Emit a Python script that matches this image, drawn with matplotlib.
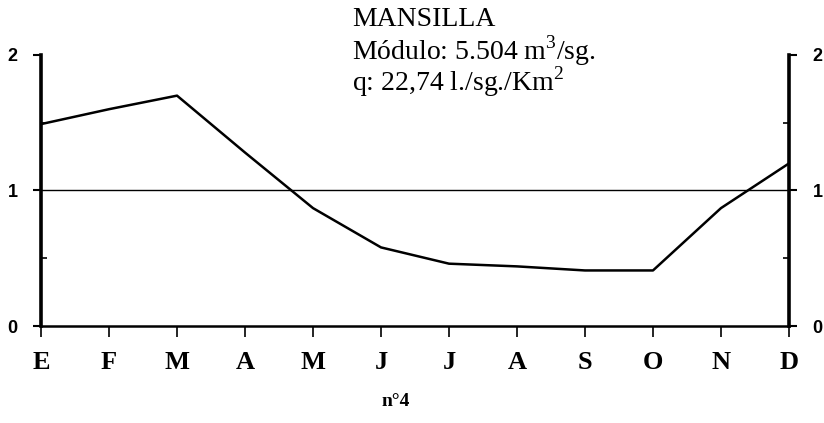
import matplotlib
matplotlib.use("Agg")
import matplotlib.pyplot as plt
from matplotlib.ticker import MultipleLocator

# Monthly discharge coefficient, Mansilla
months = ['E', 'F', 'M', 'A', 'M', 'J', 'J', 'A', 'S', 'O', 'N', 'D']
coef = [1.49, 1.60, 1.70, 1.28, 0.87, 0.58, 0.46, 0.44, 0.41, 0.41, 0.87, 1.20]
y_ticks = [0, 1, 2]

plt.rcParams['mathtext.fontset'] = 'custom'
plt.rcParams['mathtext.rm'] = 'Liberation Serif'

fig = plt.figure(figsize=(8.24, 4.23), dpi=100)
ax = fig.add_axes([0.0498, 0.2293, 0.9077, 0.6407])

x = list(range(len(months)))
ax.plot(x, coef, color='black', linewidth=1.8)
ax.axhline(1, color='black', linewidth=1.0)

ax.set_xlim(0, len(months) - 1)
ax.set_ylim(0, 2)

# spines: left/right thick, bottom medium, no top
for side in ['left', 'right']:
    ax.spines[side].set_linewidth(2.6)
ax.spines['bottom'].set_linewidth(1.8)
ax.spines['top'].set_visible(False)

ax.set_xticks(x)
ax.set_xticklabels(months, fontsize=19, fontweight='bold', family='Liberation Serif')
ax.tick_params(axis='x', direction='out', length=8, width=1.2, pad=10)

ax.set_yticks(y_ticks)
ax.set_yticklabels([str(v) for v in y_ticks], fontsize=13, fontweight='bold',
                   family='Liberation Sans')
ax.yaxis.set_minor_locator(MultipleLocator(0.5))
ax.tick_params(axis='y', which='major', direction='out', length=6, width=1.5,
               pad=11, left=True, right=True, labelleft=True, labelright=True)
ax.tick_params(axis='y', which='minor', direction='in', length=4, width=1.2,
               left=True, right=True)

title_kw = dict(fontsize=20, family='Liberation Serif', va='center')
fig.text(0.427, 0.953, 'MANSILLA', **title_kw)
fig.text(0.427, 0.880, 'Módulo: 5.504 m$^3$/sg.', **title_kw)
fig.text(0.427, 0.806, 'q: 22,74 l./sg./Km$^2$', **title_kw)

fig.text(0.463, 0.052, 'n°4', fontsize=14, fontweight='bold', family='Liberation Serif',
         va='center')

fig.savefig('out.png', dpi=100)
